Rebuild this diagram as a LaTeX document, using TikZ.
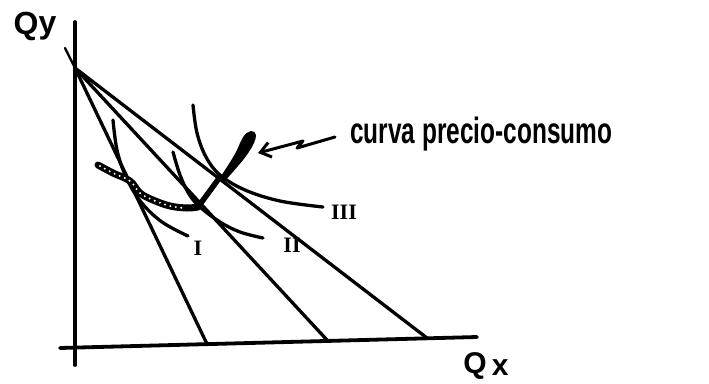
\documentclass[tikz,border=0pt]{standalone}
\usepackage{fontspec}
\newfontfamily\handfont{Liberation Sans}
\newfontfamily\romanfont{Liberation Serif}
\usetikzlibrary{arrows.meta}
\begin{document}
\begin{tikzpicture}[x=1pt,y=-1pt,
  axisline/.style={line width=3.8pt,line cap=round},
  budget/.style={line width=3.3pt,line cap=round},
  indiff/.style={line width=3.3pt,line cap=round,line join=round},
  roman/.style={font=\fontsize{22}{24}\selectfont\romanfont\bfseries,inner sep=0pt},
  lbl/.style={inner sep=0pt}]
\useasboundingbox (0,0) rectangle (709,383);
% axes
\coordinate (ytop) at (75,22);
\coordinate (ybot) at (75,365);
\coordinate (xleft) at (60,348);
\coordinate (xright) at (477,337);
\draw[axisline] (ytop) -- (ybot);
\draw[axisline] (xleft) -- (xright);
% budget lines
\coordinate (A) at (75,68);
\coordinate (B1) at (207,344);
\coordinate (B2) at (327,340);
\coordinate (B3) at (427,338);
\coordinate (t1) at (65,48);
\draw[line width=2.4pt,line cap=round] (t1) -- (A);
\draw[budget] (A) -- (B1);
\draw[budget] (A) -- (B2);
\draw[budget] (A) -- (B3);
% indifference curves
\draw[indiff] plot[smooth,tension=0.6] coordinates {(113,120) (117,150) (126,177) (141,202) (162,222) (188,236)};
\draw[indiff] plot[smooth,tension=0.6] coordinates {(173,152) (180,175) (189,194) (200,207) (220,222) (240,232) (263,238)};
\draw[indiff] plot[smooth,tension=0.6] coordinates {(193,105) (197,133) (206,157) (220,175) (245,190) (280,201) (323,207)};
% price-consumption curve
\draw[line width=7pt,line cap=round,line join=round] plot[smooth,tension=0.6] coordinates {(98,165) (113,173) (130,181) (140,193) (153,200) (170,206) (187,208) (198,207)};
\draw[white,line width=2.2pt,line cap=round,dash pattern=on 0pt off 5.5pt] plot[smooth,tension=0.6] coordinates {(100,166) (113,173) (130,181) (140,193) (153,200) (170,206) (184,208)};
\draw[line width=5.5pt,line cap=round] (198,207) -- (220,177);
\fill (218,181) .. controls (226,168) and (232,160) .. (237,150) .. controls (241,141) and (244,132) .. (251,131) .. controls (257,131) and (257,137) .. (254,143) .. controls (248,156) and (236,168) .. (225,181) -- cycle;
% arrow
\coordinate (arrS) at (335,137);
\coordinate (arrE) at (258,153);
\draw[line width=3pt,line cap=round,line join=round,-{Straight Barb[length=10pt,width=15pt,line width=3pt]}]
  (arrS) -- (297,148) -- (303,141) -- (arrE);
% labels
\node[lbl,anchor=west] (cpc) at (350,134) {\scalebox{1}[1.5]{\resizebox{262pt}{!}{\handfont\bfseries curva precio-consumo}}};
\node[lbl] (Qy) at (35,26) {\fontsize{32}{34}\selectfont\handfont\bfseries Q\raisebox{1pt}{y}};
\node[lbl] (Qx) at (486,366) {\fontsize{30}{32}\selectfont\handfont\bfseries Q\,\raisebox{-2pt}{x}};
\node[roman] (lI) at (198,248) {I};
\node[roman] (lII) at (292,245) {II};
\node[roman] (lIII) at (344,212) {III};
\end{tikzpicture}
\end{document}
